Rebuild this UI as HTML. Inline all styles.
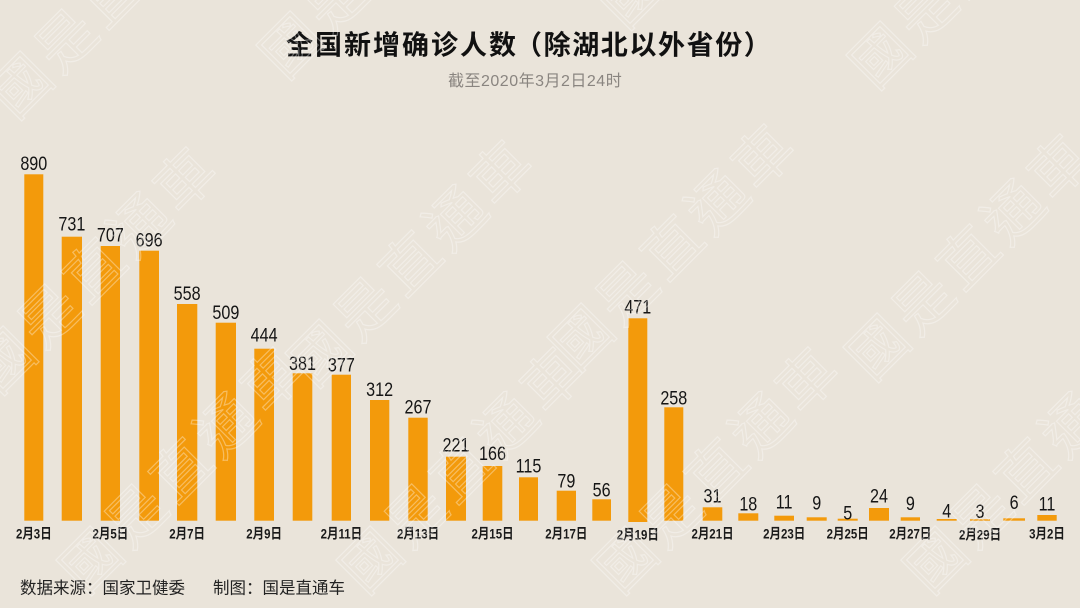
<!DOCTYPE html>
<html>
<head>
<meta charset="utf-8">
<style>
  html,body{margin:0;padding:0;background:#eae4da;width:1080px;height:608px;overflow:hidden;}
  svg{display:block;overflow:hidden;}
  .num{font-family:"Liberation Sans","DejaVu Sans",sans-serif;font-size:19px;fill:#151515;text-anchor:middle;}
  .dt{font-family:"Liberation Sans","Noto Sans CJK SC",sans-serif;font-size:14px;font-weight:bold;fill:#1a1a1a;text-anchor:middle;}
  .wm{font-family:"Noto Sans CJK TC","Noto Sans CJK SC",sans-serif;font-size:58px;letter-spacing:6px;fill:none;stroke:#ffffff;stroke-width:1.2;opacity:0.35;}
</style>
</head>
<body>
<svg width="1080" height="608" viewBox="0 0 1080 608" xmlns="http://www.w3.org/2000/svg">
  <rect x="0" y="0" width="1080" height="608" fill="#eae4da"/>

  <!-- Title -->
  <text x="286" y="54.5" font-family="'Noto Sans CJK SC',sans-serif" font-size="27" font-weight="bold" letter-spacing="2" fill="#111">全国新增确诊人数</text>
  <text x="515" y="54.5" font-family="'Noto Sans CJK SC',sans-serif" font-size="27" font-weight="bold" letter-spacing="1.6" fill="#111">（除湖北以外省份）</text>
  <text x="448" y="86.2" font-family="'Liberation Sans','Noto Sans CJK SC',sans-serif" font-size="16" letter-spacing="0.5" fill="#8a8580">截至2020年3月2日24时</text>

  <!-- Bars -->
  <g fill="#f39a0b">
    <rect x="24.3" y="174.3" width="19" height="346.4"/>
    <rect x="61.7" y="236.7" width="20.3" height="284"/>
    <rect x="100.7" y="246" width="19.3" height="274.7"/>
    <rect x="139.3" y="250.7" width="19.7" height="270"/>
    <rect x="177" y="304" width="20.3" height="216.7"/>
    <rect x="215.7" y="322.7" width="20.3" height="198"/>
    <rect x="254.3" y="348.7" width="19.7" height="172"/>
    <rect x="292.7" y="373.3" width="19.6" height="147.4"/>
    <rect x="331.7" y="374.7" width="19.3" height="146"/>
    <rect x="370" y="400" width="19.3" height="120.7"/>
    <rect x="408.3" y="417.7" width="19.4" height="103"/>
    <rect x="446" y="456.7" width="20" height="64"/>
    <rect x="482.7" y="466" width="19.6" height="54.7"/>
    <rect x="519" y="477.3" width="19" height="43.4"/>
    <rect x="556.7" y="490.7" width="19.3" height="30"/>
    <rect x="592.3" y="499.3" width="18.7" height="21.4"/>
    <rect x="628.3" y="318.3" width="19" height="203.7"/>
    <rect x="664.3" y="407.3" width="19" height="113.4"/>
    <rect x="702.7" y="507.3" width="19.6" height="13.4"/>
    <rect x="738.3" y="513.3" width="20" height="7.4"/>
    <rect x="774.3" y="515.7" width="19.7" height="5"/>
    <rect x="806.7" y="517.3" width="20" height="3.4"/>
    <rect x="837.7" y="518.7" width="20" height="2"/>
    <rect x="869" y="508" width="20" height="12.7"/>
    <rect x="900.7" y="517.3" width="19.3" height="3.4"/>
    <rect x="936.7" y="519" width="20" height="1.7"/>
    <rect x="970" y="519.3" width="20" height="1.4"/>
    <rect x="1003.3" y="518.3" width="21.7" height="2.4"/>
    <rect x="1037.3" y="515" width="19.4" height="5.7"/>
  </g>

  <!-- Value labels -->
  <g class="num">
    <text transform="translate(33.8,170) scale(0.85,1)">890</text>
    <text transform="translate(71.85,230.7) scale(0.85,1)">731</text>
    <text transform="translate(110.35,241.7) scale(0.85,1)">707</text>
    <text transform="translate(149.15,246.7) scale(0.85,1)">696</text>
    <text transform="translate(187.15,300) scale(0.85,1)">558</text>
    <text transform="translate(225.85,319) scale(0.85,1)">509</text>
    <text transform="translate(264.15,341.7) scale(0.85,1)">444</text>
    <text transform="translate(302.5,370) scale(0.85,1)">381</text>
    <text transform="translate(341.35,371.7) scale(0.85,1)">377</text>
    <text transform="translate(379.65,396) scale(0.85,1)">312</text>
    <text transform="translate(418,413.3) scale(0.85,1)">267</text>
    <text transform="translate(456,451.7) scale(0.85,1)">221</text>
    <text transform="translate(492.5,460) scale(0.85,1)">166</text>
    <text transform="translate(528.5,472.7) scale(0.85,1)">115</text>
    <text transform="translate(566.35,487.3) scale(0.85,1)">79</text>
    <text transform="translate(601.65,496.7) scale(0.85,1)">56</text>
    <text transform="translate(637.8,313.3) scale(0.85,1)">471</text>
    <text transform="translate(673.8,404.3) scale(0.85,1)">258</text>
    <text transform="translate(712.5,502.7) scale(0.85,1)">31</text>
    <text transform="translate(748.3,510.7) scale(0.85,1)">18</text>
    <text transform="translate(784.15,508.3) scale(0.85,1)">11</text>
    <text transform="translate(816.7,509.3) scale(0.85,1)">9</text>
    <text transform="translate(847.7,519.3) scale(0.85,1)">5</text>
    <text transform="translate(879,502.7) scale(0.85,1)">24</text>
    <text transform="translate(910.35,510) scale(0.85,1)">9</text>
    <text transform="translate(946.7,517.3) scale(0.85,1)">4</text>
    <text transform="translate(980,518) scale(0.85,1)">3</text>
    <text transform="translate(1014.15,509) scale(0.85,1)">6</text>
    <text transform="translate(1047,510.7) scale(0.85,1)">11</text>
  </g>

  <!-- Date labels -->
  <g class="dt">
    <text transform="translate(33.8,538.5) scale(0.82,1)">2月3日</text>
    <text transform="translate(110.35,538.5) scale(0.82,1)">2月5日</text>
    <text transform="translate(187.15,538.5) scale(0.82,1)">2月7日</text>
    <text transform="translate(264.15,538.5) scale(0.82,1)">2月9日</text>
    <text transform="translate(341.35,538.5) scale(0.82,1)">2月11日</text>
    <text transform="translate(418,538.5) scale(0.82,1)">2月13日</text>
    <text transform="translate(492.5,538.5) scale(0.82,1)">2月15日</text>
    <text transform="translate(566.35,538.5) scale(0.82,1)">2月17日</text>
    <text transform="translate(637.8,539.5) scale(0.82,1)">2月19日</text>
    <text transform="translate(712.5,538.5) scale(0.82,1)">2月21日</text>
    <text transform="translate(784.15,538.5) scale(0.82,1)">2月23日</text>
    <text transform="translate(847.7,538.5) scale(0.82,1)">2月25日</text>
    <text transform="translate(910.35,538.5) scale(0.82,1)">2月27日</text>
    <text transform="translate(980,539.5) scale(0.82,1)">2月29日</text>
    <text transform="translate(1047,538.5) scale(0.82,1)">3月2日</text>
  </g>

  <!-- Footer -->
  <text x="20" y="593.5" font-family="'Noto Sans CJK SC',sans-serif" font-size="16.5" fill="#222">数据来源：国家卫健委</text>
  <text x="213" y="593.5" font-family="'Noto Sans CJK SC',sans-serif" font-size="16.5" fill="#222">制图：国是直通车</text>

  <!-- Watermarks -->
  <g class="wm">
    <text transform="translate(15,121) rotate(-45)">國是直通車</text>
    <text transform="translate(285,81) rotate(-45)">國是直通車</text>
    <text transform="translate(625,31) rotate(-45)">國是直通車</text>
    <text transform="translate(875,91) rotate(-45)">國是直通車</text>
    <text transform="translate(-2,396) rotate(-45)">國是直通車</text>
    <text transform="translate(314,389) rotate(-45)">國是直通車</text>
    <text transform="translate(576,373) rotate(-45)">國是直通車</text>
    <text transform="translate(872,383) rotate(-45)">國是直通車</text>
    <text transform="translate(85,596) rotate(-45)">國是直通車</text>
    <text transform="translate(365,596) rotate(-45)">國是直通車</text>
    <text transform="translate(620,596) rotate(-45)">國是直通車</text>
    <text transform="translate(930,596) rotate(-45)">國是直通車</text>
  </g>
</svg>
</body>
</html>
